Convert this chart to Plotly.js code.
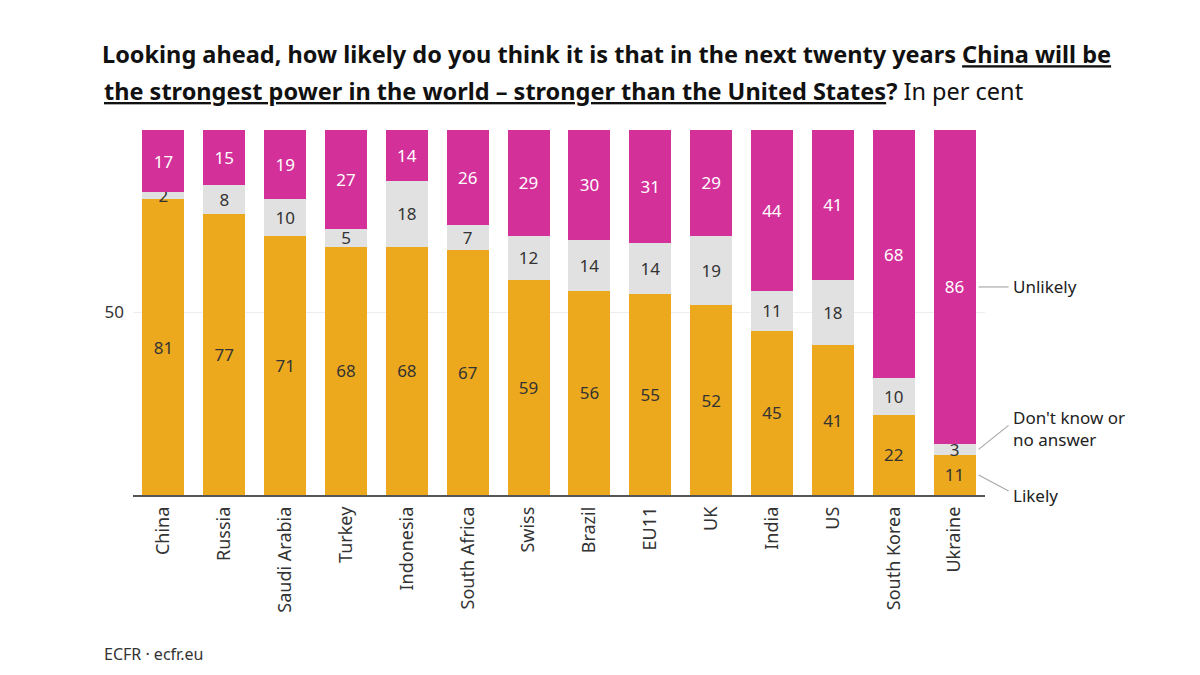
<!DOCTYPE html>
<html>
<head>
<meta charset="utf-8">
<script src="https://cdn.plot.ly/plotly-3.0.1.min.js"></script>
<style>html,body{margin:0;padding:0;background:#fff;}#chart{width:1200px;height:675px;}</style>
</head>
<body>
<div id="chart"></div>
<script>
const countries = ["China","Russia","Saudi Arabia","Turkey","Indonesia","South Africa","Swiss","Brazil","EU11","UK","India","US","South Korea","Ukraine"];
const likely    = [81,77,71,68,68,67,59,56,55,52,45,41,22,11];
const dontKnow  = [2,8,10,5,18,7,12,14,14,19,11,18,10,3];
const unlikely  = [17,15,19,27,14,26,29,30,31,29,44,41,68,86];
const seriesNames = ["Likely","Don't know or<br>no answer","Unlikely"];

const FONT = "'Noto Sans', Lato, sans-serif";
const colors = ["#ECA91E","#E1E1E1","#D3309A"];
const textColors = ["#333333","#333333","#ffffff"];
const series = [likely, dontKnow, unlikely];

const bargap = 0.31;
const yMax = 100;
const traces = series.map((vals, i) => ({
  type: "bar",
  name: seriesNames[i],
  x: countries,
  y: vals,
  marker: {color: colors[i], line: {width: 0}},
  text: vals.map(String),
  textposition: "inside",
  insidetextanchor: "middle",
  textangle: 0,
  textfont: {family: FONT, size: 17, color: textColors[i]},
  hoverinfo: "none"
}));

const n = countries.length;
const last = n - 1;
const barRight = last + (1 - bargap) / 2;
const barRightPaper = (barRight + 0.5) / n;
const likelyMid = likely[last] / 2;
const dkMid = likely[last] + dontKnow[last] / 2;
const unlikelyMid = likely[last] + dontKnow[last] + unlikely[last] / 2;

const annFont = {family: FONT, size: 17, color: "#222"};
function label(text, yVal, yshift) {
  return {text: text, xref: "x", yref: "y", x: barRight, y: yVal, xanchor: "left", yanchor: "middle",
          xshift: 35, yshift: yshift, align: "left", showarrow: false, font: annFont};
}
function leader(yVal, dy) {
  return {type: "line", xref: "paper", yref: "paper", xsizemode: "pixel", ysizemode: "pixel",
          xanchor: barRightPaper, yanchor: yVal / yMax, x0: 3, x1: 33, y0: 0, y1: dy,
          line: {color: "#aaaaaa", width: 1.2}};
}

const layout = {
  width: 1200, height: 675,
  paper_bgcolor: "#fff", plot_bgcolor: "#fff",
  margin: {l: 133, r: 215, t: 130, b: 180},
  barmode: "stack",
  bargap: bargap,
  showlegend: false,
  uniformtext: {minsize: 17, mode: "show"},
  font: {family: FONT, color: "#333"},
  title: {
    text: "<b>Looking ahead, how likely do you think it is that in the next twenty years <u>China will be</u></b>",
    font: {family: FONT, size: 23.5, color: "#111"},
    xref: "container", yref: "container", x: 102/1200, xanchor: "left", y: 1 - 55/675, yanchor: "middle"
  },
  xaxis: {
    type: "category",
    range: [-0.5, n - 0.5],
    tickangle: -90,
    tickfont: {family: FONT, size: 18, color: "#333"},
    ticklabelstandoff: 3,
    showline: true, linecolor: "#555", linewidth: 1.5,
    showgrid: false, zeroline: false, ticks: "", ticklen: 0, fixedrange: true
  },
  yaxis: {
    range: [0, yMax],
    tickvals: [50], ticktext: ["50"],
    tickfont: {family: FONT, size: 17, color: "#333"},
    ticklabelstandoff: 8,
    showgrid: true, gridcolor: "#eeeeee", gridwidth: 1,
    zeroline: false, showline: false, ticks: "", fixedrange: true
  },
  shapes: [
    leader(unlikelyMid, 0),
    leader(dkMid, 24),
    leader(likelyMid, -16)
  ],
  annotations: [
    {text: "<b><u>the strongest power in the world – stronger than the United States</u>?</b> In per cent",
     xref: "paper", yref: "paper", x: (102-133)/852, y: 1 + (130-91)/365,
     xanchor: "left", yanchor: "middle", showarrow: false,
     font: {family: FONT, size: 23.5, color: "#111"}},
    {text: "ECFR · ecfr.eu", xref: "paper", yref: "paper", x: (102-133)/852, y: -(654-495)/365,
     xanchor: "left", yanchor: "middle", showarrow: false,
     font: {family: FONT, size: 16, color: "#333"}},
    label("Unlikely", unlikelyMid, 0),
    label("Don't know or<br>no answer", dkMid, 21),
    label("Likely", likelyMid, -21)
  ]
};

Plotly.newPlot("chart", traces, layout, {staticPlot: true, displayModeBar: false});
</script>
</body>
</html>
